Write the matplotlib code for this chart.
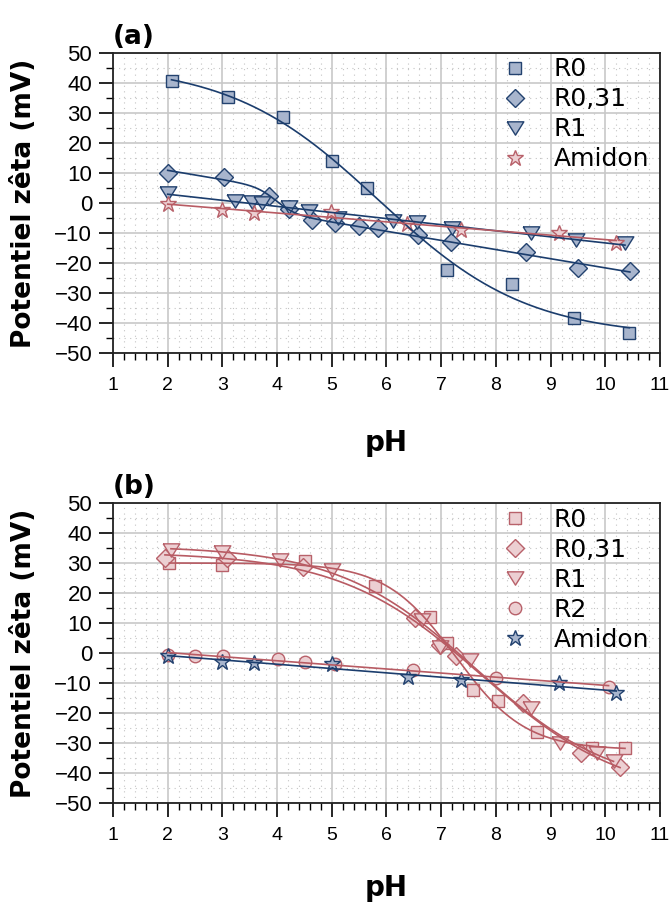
import numpy as np
import matplotlib
matplotlib.use("Agg")
import matplotlib.pyplot as plt
from matplotlib.ticker import MultipleLocator

plt.rcParams['font.family'] = ['DejaVu Sans']

# ---- panel (a) data (pH, zeta potential in mV) ----
a_r0_ph = [2.07, 3.10, 4.11, 5.00, 5.64, 7.10, 8.30, 9.42, 10.44]
a_r0_mv = [40.7, 35.3, 28.5, 14.0, 5.1, -22.2, -26.9, -38.3, -43.5]

a_r031_ph = [2.00, 3.03, 3.86, 4.21, 4.63, 5.05, 5.50, 5.84, 6.58, 7.18, 8.55, 9.50, 10.45]
a_r031_mv = [10.0, 8.7, 2.2, -1.9, -5.8, -6.7, -7.8, -8.3, -10.8, -13.0, -16.3, -21.7, -22.7]

a_r1_ph = [2.00, 3.23, 3.54, 3.72, 4.22, 4.59, 5.12, 6.12, 6.55, 7.19, 8.64, 9.47, 10.36]
a_r1_mv = [3.3, 0.7, 0.3, 0.0, -1.3, -2.7, -4.9, -6.0, -6.3, -8.5, -10.0, -12.4, -13.2]

a_am_ph = [2.00, 3.00, 3.57, 4.99, 6.37, 7.37, 9.15, 10.20]
a_am_mv = [-0.5, -2.4, -3.2, -3.0, -6.9, -9.1, -10.0, -13.3]

# ---- panel (b) data ----
b_r0_ph = [2.03, 2.99, 4.51, 5.79, 6.80, 7.10, 7.59, 8.03, 8.75, 9.75, 10.36]
b_r0_mv = [30.0, 29.4, 30.8, 22.4, 12.0, 3.3, -12.2, -15.8, -26.1, -31.7, -31.7]

b_r031_ph = [1.95, 3.08, 4.48, 6.52, 6.97, 7.27, 8.49, 9.55, 10.27]
b_r031_mv = [31.9, 31.7, 28.7, 11.7, 2.8, -0.8, -16.7, -33.3, -37.8]

b_r1_ph = [2.06, 2.99, 4.05, 5.00, 6.64, 6.98, 7.53, 8.65, 9.17, 9.84, 10.15]
b_r1_mv = [34.4, 33.9, 31.1, 27.8, 11.1, 2.2, -2.2, -18.3, -30.0, -33.3, -35.8]

b_r2_ph = [2.00, 2.50, 3.02, 4.01, 4.51, 5.05, 6.49, 8.01, 10.06]
b_r2_mv = [-0.6, -0.8, -0.9, -1.9, -2.8, -3.6, -5.6, -8.3, -11.1]

b_am_ph = [2.00, 3.00, 3.57, 5.01, 6.40, 7.36, 9.15, 10.20]
b_am_mv = [-0.8, -2.8, -3.1, -3.6, -7.8, -8.9, -10.0, -13.3]

BLUE_FILL = '#a8b5cd'
BLUE_EDGE = '#23426f'
BLUE_LINE = '#1b3d6d'
RED_FILL = '#eccfd2'
RED_EDGE = '#b8616a'
RED_LINE = '#b85b63'

# wide, flat down-triangle like the original marker
TRI = [(-1, 0.8), (1, 0.8), (0, -0.8), (-1, 0.8)]


def boltzmann_fit(x, y, slope=False):
    """least squares Boltzmann (optionally + linear term) via grid search"""
    x = np.asarray(x, float)
    y = np.asarray(y, float)
    x0s = np.arange(1.0, 13.0, 0.02)
    dxs = np.arange(0.1, 6.0, 0.02)
    best = None
    with np.errstate(over='ignore', invalid='ignore', divide='ignore'):
        for x0 in x0s:
            s = 1.0 / (1.0 + np.exp((x[None, :] - x0) / dxs[:, None]))
            for j, dx in enumerate(dxs):
                cols = [np.ones_like(x), s[j]]
                if slope:
                    cols.append(x)
                A = np.column_stack(cols)
                coef, *_ = np.linalg.lstsq(A, y, rcond=None)
                r = np.sum((A @ coef - y) ** 2)
                if best is None or r < best[0]:
                    best = (r, x0, dx, coef)
    _, x0, dx, coef = best
    xx = np.linspace(x.min(), x.max(), 300)
    ss = 1.0 / (1.0 + np.exp((xx - x0) / dx))
    yy = coef[0] + coef[1] * ss
    if slope:
        yy = yy + coef[2] * xx
    return xx, yy


def line_fit(x, y):
    p = np.polyfit(x, y, 1)
    xx = np.linspace(min(x), max(x), 100)
    return xx, np.polyval(p, xx)


def style_axes(ax, letter, xlabel_y):
    ax.set_xlim(1, 11)
    ax.set_ylim(-50, 50)
    ax.xaxis.set_major_locator(MultipleLocator(1))
    ax.xaxis.set_minor_locator(MultipleLocator(0.2))
    ax.yaxis.set_major_locator(MultipleLocator(10))
    ax.yaxis.set_minor_locator(MultipleLocator(5))
    ax.grid(which='major', color='#c8c8c8', linewidth=1.2, zorder=0)
    ax.grid(which='minor', color='#c4c4c4', linewidth=0.8,
            linestyle=(0, (1, 4)), zorder=0)
    ax.set_axisbelow(True)
    ax.tick_params(which='major', direction='out', length=10, width=1.2, pad=5)
    ax.tick_params(which='minor', direction='out', length=5, width=1.0)
    ax.tick_params(axis='x', which='major', pad=7, labelsize=14)
    ax.tick_params(axis='y', which='major', labelsize=16)
    for lab in ax.get_xticklabels() + ax.get_yticklabels():
        lab.set_family('Liberation Sans')
    for sp in ax.spines.values():
        sp.set_linewidth(1.3)
        sp.set_color('#222222')
    ax.set_xlabel('pH', fontsize=20, fontweight='bold')
    ax.set_ylabel('Potentiel zêta (mV)', fontsize=19, fontweight='bold')
    ax.xaxis.set_label_coords(0.5, xlabel_y)
    ax.yaxis.set_label_coords(-0.139, 0.5)
    ax.text(0.0, 1.01, letter, transform=ax.transAxes, fontsize=19,
            fontweight='bold', ha='left', va='bottom')


fig = plt.figure(figsize=(6.71, 9.09), dpi=100)
ax1 = fig.add_axes([0.1684, 0.6117, 0.8152, 0.3300])
ax2 = fig.add_axes([0.1684, 0.1163, 0.8152, 0.3300])

# ---------------- panel (a) ----------------
blue_kw = dict(linestyle='none', markerfacecolor=BLUE_FILL,
               markeredgecolor=BLUE_EDGE, markeredgewidth=1.0, zorder=3)
red_kw = dict(linestyle='none', markerfacecolor=RED_FILL,
              markeredgecolor=RED_EDGE, markeredgewidth=1.0, zorder=3)

ax1.plot(a_r0_ph, a_r0_mv, marker='s', markersize=9, label='R0', **blue_kw)
ax1.plot(a_r031_ph, a_r031_mv, marker='D', markersize=9, label='R0,31', **blue_kw)
ax1.plot(a_r1_ph, a_r1_mv, marker=TRI, markersize=12, label='R1', **blue_kw)
ax1.plot(a_am_ph, a_am_mv, marker='*', markersize=12, label='Amidon', **red_kw)

ax1.plot(*boltzmann_fit(a_r0_ph, a_r0_mv), color=BLUE_LINE, lw=1.2, zorder=4)
ax1.plot(*boltzmann_fit(a_r031_ph, a_r031_mv, slope=True), color=BLUE_LINE, lw=1.2, zorder=4)
ax1.plot(*line_fit(a_r1_ph, a_r1_mv), color=BLUE_LINE, lw=1.2, zorder=4)
ax1.plot(*line_fit(a_am_ph, a_am_mv), color=RED_LINE, lw=1.2, zorder=4)

style_axes(ax1, '(a)', -0.255)

# ---------------- panel (b) ----------------
ax2.plot(b_r0_ph, b_r0_mv, marker='s', markersize=9, label='R0', **red_kw)
ax2.plot(b_r031_ph, b_r031_mv, marker='D', markersize=9, label='R0,31', **red_kw)
ax2.plot(b_r1_ph, b_r1_mv, marker=TRI, markersize=12, label='R1', **red_kw)
ax2.plot(b_r2_ph, b_r2_mv, marker='o', markersize=9, label='R2', **red_kw)
ax2.plot(b_am_ph, b_am_mv, marker='*', markersize=12, label='Amidon', **blue_kw)

ax2.plot(*boltzmann_fit(b_r0_ph, b_r0_mv), color=RED_LINE, lw=1.2, zorder=4)
ax2.plot(*boltzmann_fit(b_r031_ph, b_r031_mv), color=RED_LINE, lw=1.2, zorder=4)
ax2.plot(*boltzmann_fit(b_r1_ph, b_r1_mv), color=RED_LINE, lw=1.2, zorder=4)
ax2.plot(*line_fit(b_r2_ph, b_r2_mv), color=RED_LINE, lw=1.2, zorder=4)
ax2.plot(*line_fit(b_am_ph, b_am_mv), color=BLUE_LINE, lw=1.2, zorder=4)

style_axes(ax2, '(b)', -0.235)

for ax in (ax1, ax2):
    ax.legend(loc='upper left', bbox_to_anchor=(0.712, 0.985), frameon=False,
              fontsize=18, numpoints=1, handlelength=1.0, handletextpad=1.06,
              labelspacing=0.24, borderpad=0, borderaxespad=0)

fig.savefig('out.png', dpi=100)
